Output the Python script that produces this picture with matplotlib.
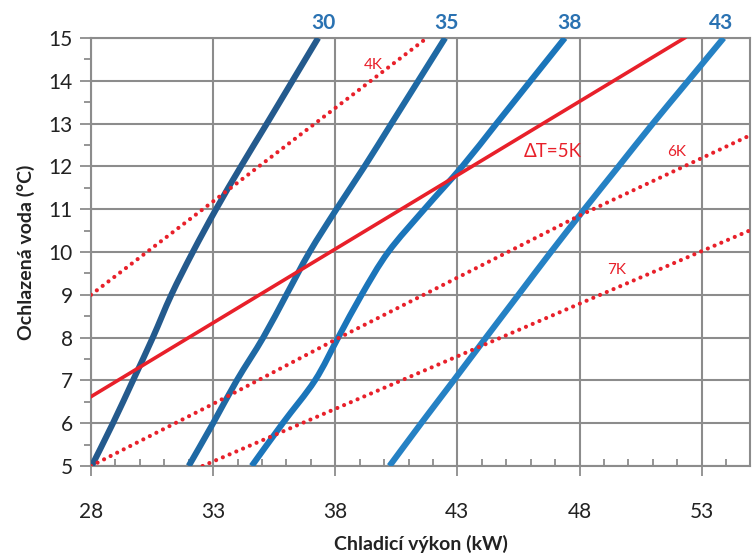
import matplotlib
matplotlib.use("Agg")
import matplotlib.pyplot as plt
from matplotlib.path import Path
from matplotlib.patches import PathPatch
from matplotlib.ticker import MultipleLocator

plt.rcParams['font.family'] = ['Lato', 'DejaVu Sans']

# chilled water temperature levels (y) and cooling capacity per curve (x)
water_temp = [5, 6, 7, 8, 9, 10, 11, 12, 13, 14, 15]
cap_30 = [28.03, 28.9, 29.72, 30.53, 31.29, 32.17, 33.12, 34.14, 35.2, 36.25, 37.3]
cap_35 = [32.0, 33.0, 33.97, 35.05, 36.0, 36.95, 38.05, 39.2, 40.3, 41.4, 42.5]
cap_38 = [34.58, 35.85, 37.17, 38.12, 39.08, 40.17, 41.65, 43.2, 44.6, 46.0, 47.4]
cap_43 = [40.22, 41.52, 42.85, 44.17, 45.5, 46.83, 48.2, 49.6, 51.0, 52.45, 53.9]
curve_names = ["30", "35", "38", "43"]

# delta T lines
dt4_x = [28, 41.75]
dt4_y = [9, 15]
dt5_x = [28, 52.3]
dt5_y = [6.62, 15]
dt6_x = [28, 33, 38, 43, 48, 55]
dt6_y = [5, 6.45, 7.95, 9.4, 10.85, 12.73]
dt7_x = [32.57, 55]
dt7_y = [5, 10.51]

red = "#E8202A"
label_blue = "#2A72B2"
blues = ["#245A8D", "#1F69A4", "#1B75BA", "#2581C4"]
grid_c = "#8C8C8C"


def smooth_path(xs, ys):
    # excel-like smoothed line: bezier segments through the points
    pts = list(zip(xs, ys))
    n = len(pts)
    verts = [pts[0]]
    codes = [Path.MOVETO]
    for i in range(n - 1):
        p0 = pts[i - 1] if i > 0 else pts[i]
        p1 = pts[i]
        p2 = pts[i + 1]
        p3 = pts[i + 2] if i + 2 < n else pts[i + 1]
        c1 = (p1[0] + (p2[0] - p0[0]) / 6, p1[1] + (p2[1] - p0[1]) / 6)
        c2 = (p2[0] - (p3[0] - p1[0]) / 6, p2[1] - (p3[1] - p1[1]) / 6)
        verts += [c1, c2, p2]
        codes += [Path.CURVE4] * 3
    return Path(verts, codes)


fig = plt.figure(figsize=(7.52, 5.56), dpi=100)
ax = fig.add_axes([0.121, 0.1619, 0.877, 0.7698])

for caps, col in zip([cap_30, cap_35, cap_38, cap_43], blues):
    ax.add_patch(PathPatch(smooth_path(caps, water_temp), fill=False, edgecolor=col,
                           lw=4.4, capstyle="butt", zorder=3))

dotted = dict(color=red, lw=3.0, linestyle=(0, (0.01, 1.75)), dash_capstyle="round", zorder=4)
ax.plot(dt4_x, dt4_y, **dotted)
ax.plot(dt6_x, dt6_y, **dotted)
ax.plot(dt7_x, dt7_y, **dotted)
ax.plot(dt5_x, dt5_y, color=red, lw=2.6, zorder=4)

# curve labels above the plot
for name, xpos in zip(curve_names, [37.5, 42.56, 47.6, 53.8]):
    ax.text(xpos, 15.34, name, color=label_blue, fontsize=15, fontweight="bold",
            ha="center", va="center", clip_on=False)

ax.text(39.55, 14.37, "4K", color=red, fontsize=11, ha="center", va="center")
ax.text(46.92, 12.34, "ΔT=5K", color=red, fontsize=13.5, ha="center", va="center")
ax.text(51.97, 12.34, "6K", color=red, fontsize=11, ha="center", va="center")
ax.text(49.5, 9.58, "7K", color=red, fontsize=11, ha="center", va="center")

ax.set_xlim(28, 55)
ax.set_ylim(5, 15)
ax.set_xticks([28, 33, 38, 43, 48, 53])
ax.set_yticks(range(5, 16))
ax.xaxis.set_minor_locator(MultipleLocator(1))
ax.yaxis.set_minor_locator(MultipleLocator(0.5))
ax.grid(True, which="major", color=grid_c, lw=1.5, zorder=1)
ax.set_axisbelow(True)

ax.tick_params(axis="x", which="major", direction="out", length=7, width=1.3,
               color=grid_c, labelsize=15, pad=19, labelcolor="#222222")
ax.tick_params(axis="x", which="minor", direction="in", length=5, width=1.3, color=grid_c)
ax.tick_params(axis="y", which="major", direction="out", length=8, width=1.3,
               color=grid_c, labelsize=15, pad=5, labelcolor="#222222")
ax.tick_params(axis="y", which="minor", direction="out", length=5, width=1.3, color=grid_c)
for sp in ax.spines.values():
    sp.set_color(grid_c)
    sp.set_linewidth(1.5)

ax.set_xlabel("Chladicí výkon (kW)", fontsize=14, fontweight="bold", labelpad=9, color="#222222")
ax.set_ylabel("Ochlazená voda (°C)", fontsize=14, fontweight="bold", labelpad=10, color="#222222")

fig.savefig("out.png", dpi=100)
